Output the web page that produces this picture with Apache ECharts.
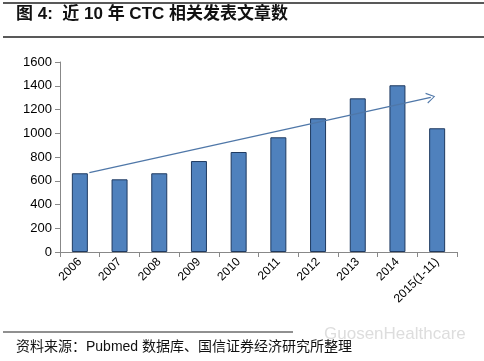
<!DOCTYPE html>
<html>
<head>
<meta charset="utf-8">
<script src="https://cdn.jsdelivr.net/npm/echarts@6/dist/echarts.min.js"></script>
<style>html,body{margin:0;padding:0;background:#fff;}#c{width:484px;height:361px;}</style>
</head>
<body>
<div id="c"></div>
<script>
var titleText = '图 4:  近 10 年 CTC 相关发表文章数';
var sourceText = '资料来源：Pubmed 数据库、国信证券经济研究所整理';
var watermarkText = 'GuosenHealthcare';
var categories = ['2006','2007','2008','2009','2010','2011','2012','2013','2014','2015(1-11)'];
var articles = [663, 612, 663, 766, 842, 966, 1126, 1294, 1404, 1042];
var yTicks = [0, 200, 400, 600, 800, 1000, 1200, 1400, 1600];
// trend arrow: positions along category span (index units) and values
var trendX = [0.74, 9.34];
var trendY = [668, 1303];

var chart = echarts.init(document.getElementById('c'), null, {renderer:'canvas'});
var font = '"Liberation Sans", Arial, sans-serif';
var cjk = '"Liberation Sans", "Noto Sans CJK SC", sans-serif';
chart.setOption({
  animation:false,
  backgroundColor:'#fff',
  grid:{left:60, right:27, top:62, bottom:109},
  xAxis:[{
    type:'category', data:categories, boundaryGap:true,
    axisLine:{lineStyle:{color:'#888', width:1}},
    axisTick:{show:true, alignWithLabel:false, length:5, lineStyle:{color:'#888'}},
    axisLabel:{rotate:45, color:'#000', fontSize:12, fontFamily:font, margin:8, interval:0}
  },{
    type:'value', min:0, max:categories.length, show:false
  }],
  yAxis:{
    type:'value', min:yTicks[0], max:yTicks[yTicks.length-1], interval:200,
    axisLine:{show:true, lineStyle:{color:'#888'}},
    axisTick:{show:true, inside:false, length:5, lineStyle:{color:'#888'}},
    splitLine:{show:false},
    axisLabel:{color:'#000', fontSize:13, fontFamily:font, margin:8, formatter:function(v){return String(v);}}
  },
  series:[{
    type:'bar', data:articles, barWidth:16,
    itemStyle:{color:'#4F81BD', borderColor:'#1F3A60', borderWidth:1}
  },{
    type:'line', xAxisIndex:1, data:[],
    markLine:{
      silent:true, symbol:['none','path://M0,10 L5,0 L10,10 L9,10.6 L5,2 L1,10.6 Z'], symbolSize:[11,9],
      label:{show:false},
      lineStyle:{color:'#4F77A8', width:1.3, type:'solid'},
      data:[[{coord:[trendX[0], trendY[0]]},{coord:[trendX[1], trendY[1]]}]]
    }
  }],
  graphic:[
    {type:'line', shape:{x1:3,y1:3,x2:484,y2:3}, style:{stroke:'#222', lineWidth:1.5}},
    {type:'text', left:16, top:6, style:{text:titleText, font:'bold 17px '+cjk, fill:'#111'}},
    {type:'line', shape:{x1:3,y1:37,x2:484,y2:37}, style:{stroke:'#222', lineWidth:1.5}},
    {type:'line', shape:{x1:3,y1:332,x2:293,y2:332}, style:{stroke:'#222', lineWidth:1.2}},
    {type:'text', left:324, top:326, style:{text:watermarkText, font:'17px '+font, fill:'#ddd'}},
    {type:'text', left:16, top:340, style:{text:sourceText, font:'14px '+cjk, fill:'#111'}}
  ]
});
</script>
</body>
</html>
